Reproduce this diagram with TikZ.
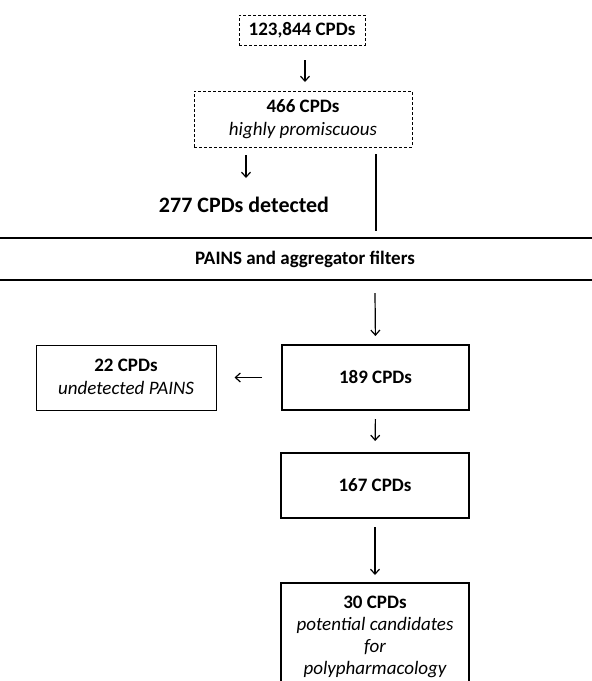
\documentclass[tikz,border=0pt]{standalone}
\usepackage{fontspec}
\setmainfont{Carlito}
\usetikzlibrary{arrows.meta}
\begin{document}
\begin{tikzpicture}[x=1pt,y=-1pt,
  dashbox/.style={draw, dashed, line width=0.8pt, dash pattern=on 3pt off 2pt, inner sep=0pt, align=center},
  thinbox/.style={draw, line width=1pt, inner sep=0pt, align=center},
  thickbox/.style={draw, line width=2pt, inner sep=0pt, align=center},
  arr/.style={-{Straight Barb[length=5pt,width=9pt]}, line width=1.2pt},
  lbl/.style={font=\fontsize{19}{23}\selectfont\bfseries},
  itl/.style={font=\fontsize{19}{23}\selectfont\itshape},
  band/.style={line width=2pt}
]
\useasboundingbox (0,0) rectangle (592,681);
\clip (0,0) rectangle (592,681);
\fill[white] (0,0) rectangle (592,681);

% top boxes
\node[dashbox, minimum width=126pt, minimum height=30pt] (b1) at (302,30) {};
\node[lbl] (t1) at (302,30) {123,844 CPDs};
\node[dashbox, minimum width=218pt, minimum height=56pt] (b2) at (303,119) {};
\node[lbl] (t2a) at (303,106) {466 CPDs};
\node[itl] (t2b) at (303,131) {highly promiscuous};
\node[font=\fontsize{22}{26}\selectfont\bfseries] (det) at (244,205) {277 CPDs detected};

% band
\coordinate (l1w) at (0,238);
\coordinate (l1e) at (592,238);
\coordinate (l2w) at (0,280);
\coordinate (l2e) at (592,280);
\draw[band] (l1w) -- (l1e);
\draw[band] (l2w) -- (l2e);
\node[lbl] (pains) at (305,259) {PAINS and aggregator filters};

% lower boxes
\node[thickbox, minimum width=187pt, minimum height=65pt] (b189) at (375.5,377.5) {\fontsize{19}{23}\selectfont\bfseries 189 CPDs};
\node[thinbox, minimum width=180pt, minimum height=65pt] (b22) at (126,377.5) {};
\node[lbl] (t22a) at (126,365) {22 CPDs};
\node[itl] (t22b) at (126,388) {undetected PAINS};
\node[thickbox, minimum width=188pt, minimum height=65pt] (b167) at (375,485.5) {\fontsize{19}{23}\selectfont\bfseries 167 CPDs};
\node[thickbox, minimum width=188pt, minimum height=140pt] (b30) at (375,653) {};
\node[lbl] (t30a) at (375,602) {30 CPDs};
\node[itl] (t30b) at (375,625) {potential candidates};
\node[itl] (t30c) at (375,647) {for};
\node[itl] (t30d) at (375,670) {polypharmacology};

% connectors
\coordinate (a1s) at (305,60);
\coordinate (a1e) at (305,82);
\draw[arr] (a1s) -- (a1e);
\coordinate (a2s) at (246,155);
\coordinate (a2e) at (246,178);
\draw[arr] (a2s) -- (a2e);
\coordinate (vs) at (376,154);
\coordinate (ve) at (376,231);
\draw[line width=1.2pt] (vs) -- (ve);
\coordinate (a3s) at (375,293);
\draw[arr, shorten >=8pt] (a3s) -- (b189.north);
\draw[arr, shorten <=19pt, shorten >=18pt] (b189.west) -- (b22.east);
\draw[arr, shorten <=8pt, shorten >=11pt] (b189.south) -- (b167.north);
\draw[arr, shorten <=8pt, shorten >=7pt] (b167.south) -- (b30.north);
\end{tikzpicture}
\end{document}
